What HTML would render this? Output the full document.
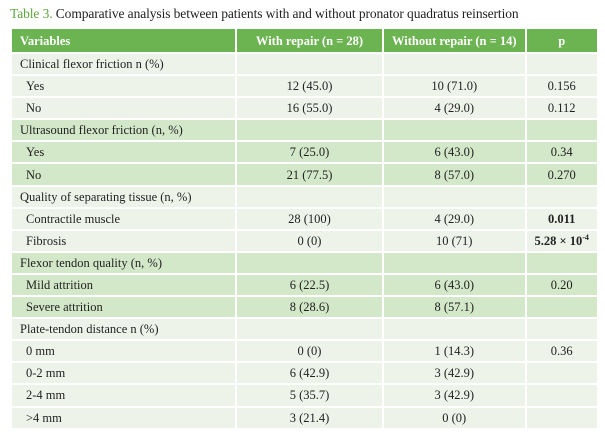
<!DOCTYPE html>
<html><head><meta charset="utf-8"><style>
body{margin:0;width:605px;height:441px;background:#fff;font-family:"Liberation Serif",serif;color:#222;overflow:hidden}
.t{position:absolute;left:10px;top:6px;font-size:13.5px;letter-spacing:-0.1px;white-space:nowrap}
.t b{color:#5aa83c;font-weight:normal}
table{position:absolute;left:10px;top:27px;border-collapse:collapse;font-size:12.5px}
td{border:2px solid #fff;padding:0 8px;height:20.1px;line-height:14px;white-space:nowrap}
tr.h td{background:#6cb352;color:#fff;font-weight:bold;height:23px}
tr.l td{background:#eef3ea}
tr.d td{background:#d3e8c9}
td.c{text-align:center}
td.i{padding-left:14px}
sup{font-size:8px;line-height:0}
</style></head><body>
<div class="t"><b>Table 3.</b> Comparative analysis between patients with and without pronator quadratus reinsertion</div>
<table>
<colgroup><col style="width:225px"><col style="width:147px"><col style="width:141px"><col style="width:71px"></colgroup>
<tr class="h"><td>Variables</td><td class="c">With repair (n = 28)</td><td class="c">Without repair (n = 14)</td><td class="c">p</td></tr>
<tr class="l"><td>Clinical flexor friction n (%)</td><td></td><td></td><td></td></tr>
<tr class="l"><td class="i">Yes</td><td class="c">12 (45.0)</td><td class="c">10 (71.0)</td><td class="c">0.156</td></tr>
<tr class="l"><td class="i">No</td><td class="c">16 (55.0)</td><td class="c">4 (29.0)</td><td class="c">0.112</td></tr>
<tr class="d"><td>Ultrasound flexor friction (n, %)</td><td></td><td></td><td></td></tr>
<tr class="d"><td class="i">Yes</td><td class="c">7 (25.0)</td><td class="c">6 (43.0)</td><td class="c">0.34</td></tr>
<tr class="d"><td class="i">No</td><td class="c">21 (77.5)</td><td class="c">8 (57.0)</td><td class="c">0.270</td></tr>
<tr class="l"><td>Quality of separating tissue (n, %)</td><td></td><td></td><td></td></tr>
<tr class="l"><td class="i">Contractile muscle</td><td class="c">28 (100)</td><td class="c">4 (29.0)</td><td class="c"><b>0.011</b></td></tr>
<tr class="l"><td class="i">Fibrosis</td><td class="c">0 (0)</td><td class="c">10 (71)</td><td class="c"><b>5.28 × 10<sup>-4</sup></b></td></tr>
<tr class="d"><td>Flexor tendon quality (n, %)</td><td></td><td></td><td></td></tr>
<tr class="d"><td class="i">Mild attrition</td><td class="c">6 (22.5)</td><td class="c">6 (43.0)</td><td class="c">0.20</td></tr>
<tr class="d"><td class="i">Severe attrition</td><td class="c">8 (28.6)</td><td class="c">8 (57.1)</td><td class="c"></td></tr>
<tr class="l"><td>Plate-tendon distance n (%)</td><td></td><td></td><td></td></tr>
<tr class="l"><td class="i">0 mm</td><td class="c">0 (0)</td><td class="c">1 (14.3)</td><td class="c">0.36</td></tr>
<tr class="l"><td class="i">0-2 mm</td><td class="c">6 (42.9)</td><td class="c">3 (42.9)</td><td class="c"></td></tr>
<tr class="l"><td class="i">2-4 mm</td><td class="c">5 (35.7)</td><td class="c">3 (42.9)</td><td class="c"></td></tr>
<tr class="l"><td class="i">&gt;4 mm</td><td class="c">3 (21.4)</td><td class="c">0 (0)</td><td class="c"></td></tr>
</table>
</body></html>
